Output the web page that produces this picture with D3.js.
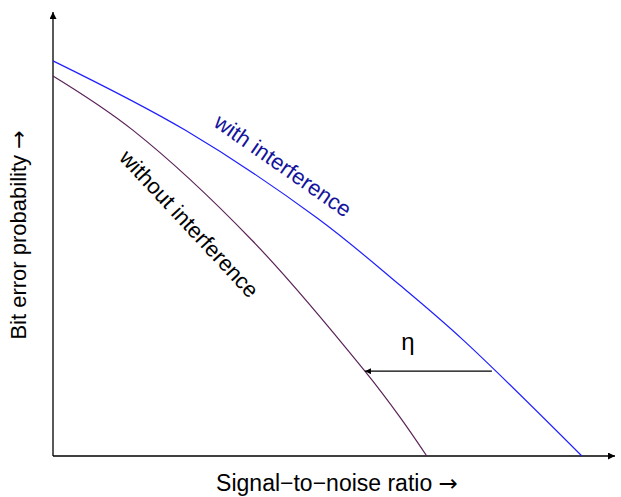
<!DOCTYPE html>
<html><head><meta charset="utf-8">
<script src="https://cdn.jsdelivr.net/npm/d3@7"></script>
<style>body{margin:0;background:#fff}svg{display:block}text{font-family:"Liberation Sans",Arial,sans-serif}</style>
</head><body>
<script>
// abstract units (no ticks in the original)
const withX    = [0, 23.5, 47.0, 61.7, 73.0, 94.1];
const withY    = [89.0, 73.4, 53.6, 38.5, 26.1, 0];
const withoutX = [0, 14.2, 35.4, 55.5, 61.7, 66.5];
const withoutY = [85.6, 73.4, 48.6, 19.1, 8.8, 0];
const etaArrow = {from: 78.1, to: 55.5, level: 19.1};
const labels = {x: "Signal\u2212to\u2212noise ratio ", y: "Bit error probability ", arrow: "\u2192",
  withI: "with interference", withoutI: "without interference", eta: "\u03B7"};

const W = 621, H = 497;
const svg = d3.select("body").append("svg").attr("width", W).attr("height", H);
const x = d3.scaleLinear().domain([0, 100]).range([53, 615]);
const y = d3.scaleLinear().domain([0, 100]).range([456, 12]);

const defs = svg.append("defs");
function marker(id, w, h){
  defs.append("marker").attr("id", id).attr("viewBox", "0 0 10 10").attr("refX", 10).attr("refY", 5)
    .attr("markerWidth", w).attr("markerHeight", h).attr("markerUnits", "userSpaceOnUse")
    .attr("orient", "auto").append("path").attr("d", "M0,0L10,5L0,10Z").attr("fill", "#000");
}
marker("ah", 11, 7);
marker("ah2", 9, 6);

const gx = svg.append("g").attr("transform", `translate(0,${y(0)})`)
  .call(d3.axisBottom(x).tickValues([]).tickSizeOuter(0));
gx.select(".domain").attr("stroke", "#000").attr("stroke-width", 1.3)
  .attr("d", `M${x(0)},0H${x(100)}`).attr("marker-end", "url(#ah)");
const gy = svg.append("g").attr("transform", `translate(${x(0)},0)`)
  .call(d3.axisLeft(y).tickValues([]).tickSizeOuter(0));
gy.select(".domain").attr("stroke", "#000").attr("stroke-width", 1.3)
  .attr("d", `M0,${y(0)}V${y(100)}`).attr("marker-end", "url(#ah)");

const line = d3.line().x(d => x(d[0])).y(d => y(d[1])).curve(d3.curveCatmullRom);
svg.append("path").datum(d3.zip(withX, withY)).attr("d", line)
  .attr("fill", "none").attr("stroke", "#1f1fff").attr("stroke-width", 1.2);
svg.append("path").datum(d3.zip(withoutX, withoutY)).attr("d", line)
  .attr("fill", "none").attr("stroke", "#5a2358").attr("stroke-width", 1.2);

svg.append("line").attr("x1", x(etaArrow.from)).attr("x2", x(etaArrow.to))
  .attr("y1", y(etaArrow.level)).attr("y2", y(etaArrow.level))
  .attr("stroke", "#000").attr("stroke-width", 1.2).attr("marker-end", "url(#ah2)");

svg.append("text").attr("x", 408).attr("y", 350).attr("text-anchor", "middle")
  .attr("font-size", 24).text(labels.eta);

svg.append("text").attr("transform", "translate(282,167) rotate(35)").attr("text-anchor", "middle")
  .attr("dominant-baseline", "middle").attr("font-size", 22).attr("fill", "#14149c").text(labels.withI);
svg.append("text").attr("transform", "translate(188,225) rotate(47)").attr("text-anchor", "middle")
  .attr("dominant-baseline", "middle").attr("font-size", 22).attr("fill", "#000").text(labels.withoutI);

const tx = svg.append("text").attr("x", 337).attr("y", 491).attr("text-anchor", "middle")
  .attr("font-size", 23);
tx.append("tspan").text(labels.x);
tx.append("tspan").attr("font-family", "DejaVu Sans").text(labels.arrow);
const ty = svg.append("text").attr("transform", "translate(26,235) rotate(-90)").attr("text-anchor", "middle")
  .attr("font-size", 22);
ty.append("tspan").text(labels.y);
ty.append("tspan").attr("font-family", "DejaVu Sans").text(labels.arrow);
</script>
</body></html>
